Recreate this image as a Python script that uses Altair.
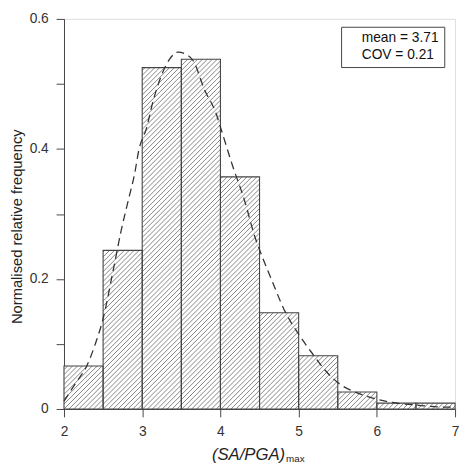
import altair as alt
import pandas as pd
import numpy as np

# ---- data ----
bin_left = [2.0, 2.5, 3.0, 3.5, 4.0, 4.5, 5.0, 5.5, 6.0, 6.5]
bin_right = [2.5, 3.0, 3.5, 4.0, 4.5, 5.0, 5.5, 6.0, 6.5, 7.0]
freq = [0.066, 0.244, 0.525, 0.538, 0.357, 0.148, 0.082, 0.026, 0.009, 0.009]

curve_x = [2.0, 2.15, 2.29, 2.4, 2.5, 2.63, 2.73, 2.83, 2.9, 2.96, 3.05, 3.14,
           3.27, 3.35, 3.46, 3.55, 3.65, 3.8, 3.94, 4.02, 4.15, 4.31, 4.44,
           4.5, 4.65, 4.83, 5.0, 5.19, 5.35, 5.53, 5.7, 5.86, 6.0, 6.2, 6.5,
           6.86, 7.0]
curve_y = [0.012, 0.04, 0.066, 0.10, 0.139, 0.214, 0.274, 0.325, 0.36, 0.40,
           0.43, 0.474, 0.52, 0.538, 0.549, 0.546, 0.536, 0.49, 0.456, 0.426,
           0.376, 0.32, 0.265, 0.245, 0.20, 0.149, 0.115, 0.083, 0.058, 0.038,
           0.027, 0.020, 0.015, 0.010, 0.006, 0.003, 0.003]

stat_mean = 3.71
stat_cov = 0.21
stat_labels = [f"mean = {stat_mean}", f"COV = {stat_cov}"]

x_ticks = [2, 2.5, 3, 3.5, 4, 4.5, 5, 5.5, 6, 6.5, 7]
y_ticks = [0, 0.1, 0.2, 0.3, 0.4, 0.5, 0.6]
x_dom = [2, 7]
y_dom = [0, 0.6]

W, H = 398, 397
FONT = "Liberation Sans"

bars = pd.DataFrame({"x0": bin_left, "x1": bin_right, "f": freq})
curve = pd.DataFrame({"x": curve_x, "y": curve_y})
stats = pd.DataFrame({"label": stat_labels})

# ---- hatch segments derived from the bars (45 degree in pixel space) ----
kx = W / (x_dom[1] - x_dom[0])
ky = H / (y_dom[1] - y_dom[0])
spacing = 5.0
segs = []
for x0, x1, f in zip(bin_left, bin_right, freq):
    p0 = (x0 - x_dom[0]) * kx
    p1 = (x1 - x_dom[0]) * kx
    ph = f * ky
    kmin = int(np.floor((p0 - ph) / spacing)) - 1
    kmax = int(np.ceil(p1 / spacing)) + 1
    for k in range(kmin, kmax + 1):
        c = k * spacing
        lo = max(p0, c)
        hi = min(p1, ph + c)
        if hi - lo > 0.3:
            segs.append({
                "hx": lo / kx + x_dom[0], "hy": (lo - c) / ky,
                "hx2": hi / kx + x_dom[0], "hy2": (hi - c) / ky,
            })
hatch = pd.DataFrame(segs)

xs = alt.Scale(domain=x_dom, nice=False, zero=False)
ys = alt.Scale(domain=y_dom, nice=False)

x_axis = alt.Axis(
    values=x_ticks,
    labelExpr="datum.value % 1 == 0 ? format(datum.value, 'd') : ''",
    title="(SA/PGA)", titleFontStyle="italic", titleFontWeight="normal",
    titleFontSize=17, titleFont=FONT, titleColor="#222",
    titleAlign="left", titleBaseline="alphabetic", titleX=150, titleY=51,
    labelFont=FONT, labelFontSize=14, labelColor="#333", labelPadding=8,
    tickSize=8, tickColor="#444", domainColor="#444", grid=False,
    labelFlush=False,
)
y_axis = alt.Axis(
    values=y_ticks,
    labelExpr="round(datum.value * 10) % 2 == 0 ? format(datum.value, '~g') : ''",
    title="Normalised relative frequency", titleFontWeight="normal",
    titleFontSize=15, titleFont=FONT, titleColor="#222",
    titleX=-48, titleY=211, titleBaseline="middle",
    labelFont=FONT, labelFontSize=14, labelColor="#333", labelPadding=8,
    tickSize=8, tickColor="#444", domainColor="#444", grid=False,
    labelFlush=False,
)

base_bars = alt.Chart(bars).mark_rect(fill="white", stroke=None).encode(
    x=alt.X("x0:Q", scale=xs, axis=x_axis),
    x2="x1:Q",
    y=alt.Y("f:Q", scale=ys, axis=y_axis),
    y2=alt.datum(0),
)

hatch_layer = alt.Chart(hatch).mark_rule(color="#666", strokeWidth=0.8).encode(
    x=alt.X("hx:Q", scale=xs),
    x2="hx2:Q",
    y=alt.Y("hy:Q", scale=ys),
    y2="hy2:Q",
)

outline = alt.Chart(bars).mark_rect(
    fillOpacity=0, stroke="#444", strokeWidth=1.1
).encode(
    x=alt.X("x0:Q", scale=xs),
    x2="x1:Q",
    y=alt.Y("f:Q", scale=ys),
    y2=alt.datum(0),
)

curve_layer = alt.Chart(curve).mark_line(
    color="#333", strokeWidth=1.3, strokeDash=[8, 5], interpolate="monotone"
).encode(
    x=alt.X("x:Q", scale=xs),
    y=alt.Y("y:Q", scale=ys),
)

legend_layer = alt.Chart(stats).mark_point(opacity=0).encode(
    color=alt.Color(
        "label:N",
        scale=alt.Scale(domain=stat_labels, range=["#000", "#000"]),
        legend=alt.Legend(
            title=None, orient="none", legendX=282, legendY=8,
            strokeColor="#444", padding=5, labelFont=FONT, labelFontSize=14,
            labelColor="#111", symbolSize=1, symbolOpacity=0,
            symbolStrokeWidth=0, labelOffset=2, rowPadding=3,
        ),
    ),
)

sub_text = alt.Chart(stats).mark_text(
    align="left", baseline="alphabetic", fontSize=10, font=FONT, color="#222"
).encode(
    x=alt.value(226), y=alt.value(H + 54), text=alt.value("max")
).transform_filter("datum.label == '" + stat_labels[0] + "'")

chart = alt.layer(
    base_bars, hatch_layer, outline, curve_layer, legend_layer, sub_text
).properties(
    width=W, height=H,
    autosize=alt.AutoSizeParams(type="none"),
    padding={"left": 57, "top": 7, "right": 4, "bottom": 58},
).configure_view(stroke=None).configure(background="white")

chart.save("out.html", embed_options={"renderer": "svg", "actions": False})
